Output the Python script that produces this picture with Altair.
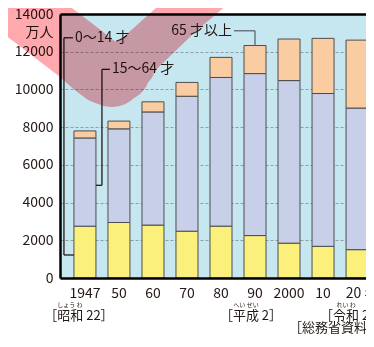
import altair as alt
import pandas as pd

# ---- data (万人) ----
CATS = ["1947", "50", "60", "70", "80", "90", "2000", "10", "20 年"]
AGE_0_14 = [2748, 2943, 2807, 2482, 2751, 2249, 1847, 1680, 1503]
AGE_15_64 = [4678, 4966, 6000, 7157, 7883, 8590, 8622, 8103, 7509]
AGE_65 = [374, 411, 535, 733, 1065, 1489, 2204, 2925, 3603]
GROUPS = ["0〜14 才", "15〜64 才", "65 才以上"]
COLORS = ["#fcf07c", "#c7cfe9", "#f9cca2"]
Y_TICKS = [0, 2000, 4000, 6000, 8000, 10000, 12000, 14000]

ERA_CATS = ["1947", "90", "20 年"]
ERA_LABELS = ["［昭和 22］", "［平成 2］", "［令和 2］"]
ERA_RUBY = ["しょう わ", "へい せい", "れい わ"]
SOURCE = "［総務省資料］"

# decorative pink swoosh overlay (centre line in bar-index / 万人 units, width px)
OV_I = [-3.68, -1.62, -0.15, 0.26, 0.56, 0.79, 1.06, 1.32, 1.62, 2.79, 5.15]
OV_V = [16760, 13950, 11930, 11300, 10920, 10770, 10920, 11350, 11930, 13890, 17500]
OV_W = [62, 62, 62, 63, 64, 64, 58, 52, 46, 44, 44]

FONT = "Noto Sans CJK JP"
INK = "#231815"

rows = []
for gi, (g, vals) in enumerate(zip(GROUPS, [AGE_0_14, AGE_15_64, AGE_65])):
    for c, v in zip(CATS, vals):
        rows.append({"cat": c, "group": g, "value": v, "gi": gi})
df = pd.DataFrame(rows)
totals = {c: a + b + d for c, a, b, d in zip(CATS, AGE_0_14, AGE_15_64, AGE_65)}

xscale = alt.Scale(domain=CATS, range=[0, 322], paddingInner=0.353, paddingOuter=0.41)
yscale = alt.Scale(domain=[0, 14000], nice=False, zero=True)
xaxis = alt.Axis(title=None, labelFont=FONT, labelFontSize=14, labelColor=INK,
                 labelAngle=0, labelPadding=8, ticks=False, tickSize=0,
                 domainColor="#000000", domainWidth=2.5, zindex=1,
                 labelOffset={"condition": {"test": "datum.value === '20 年'", "value": 5}, "value": 0})
top_test = "datum.value === 14000"
yaxis = alt.Axis(values=Y_TICKS, format="d", title="万人", titleAngle=0, titleAlign="right",
                 titleBaseline="middle", titleX=-7, titleY=18, titleFont=FONT,
                 titleFontSize=14, titleFontWeight="normal", titleColor=INK,
                 labelFont=FONT, labelFontSize=14, labelColor=INK, labelPadding=7,
                 ticks=False, tickSize=0, domainColor="#000000", domainWidth=2.5,
                 grid=True,
                 gridColor={"condition": {"test": top_test, "value": "#000000"}, "value": "#8e9ea6"},
                 gridDash={"condition": {"test": top_test, "value": []}, "value": [3, 2]},
                 gridWidth={"condition": {"test": top_test, "value": 2.5}, "value": 1})

X = alt.X("cat:N", scale=xscale, axis=xaxis)
Y = alt.Y("value:Q", scale=yscale, axis=yaxis)

bars = alt.Chart(df).mark_bar(stroke="#4d4d4d", strokeWidth=1).encode(
    x=X,
    y=alt.Y("value:Q", stack="zero", scale=yscale, axis=yaxis),
    color=alt.Color("group:N", scale=alt.Scale(domain=GROUPS, range=COLORS), legend=None),
    order=alt.Order("gi:Q", sort="ascending"),
)


def vseg(cat, y1, y2, off, color=INK):
    d = pd.DataFrame({"cat": [cat], "value": [y1], "value2": [y2]})
    return alt.Chart(d).mark_rule(xOffset=off, color=color, strokeWidth=1.3).encode(
        x=X, y=Y, y2="value2:Q")


def hseg(cat, y, off1, off2, color=INK):
    d = pd.DataFrame({"cat": [cat], "value": [y]})
    return alt.Chart(d).mark_rule(xOffset=off1, x2Offset=off2, color=color,
                                  strokeWidth=1.3).encode(x=X, x2="cat:N", y=Y)


def label(cat, y, text, dx, align):
    d = pd.DataFrame({"cat": [cat], "value": [y], "t": [text]})
    return alt.Chart(d).mark_text(align=align, baseline="middle", dx=dx, font=FONT,
                                  fontSize=14, color=INK).encode(x=X, y=Y, text="t:N")


L1_LOW, L1_TOP = 1220, 12740
L2_LOW, L2_TOP = 4915, 11065
L3_TOP = 13110
GRAY = "#5a6a72"
annots = [
    vseg("1947", L1_LOW, L1_TOP, -21),
    hseg("1947", L1_LOW, -21, -11),
    hseg("1947", L1_TOP, -21, -12),
    label("1947", L1_TOP, GROUPS[0], -10, "left"),
    vseg("1947", L2_LOW, L2_TOP, 17),
    hseg("1947", L2_LOW, 11, 17),
    hseg("1947", L2_TOP, 17, 25),
    label("1947", L2_TOP, GROUPS[1], 27, "left"),
    hseg("90", L3_TOP, -21, 0, GRAY),
    vseg("90", totals["90"], L3_TOP, 0, GRAY),
    label("90", L3_TOP, GROUPS[2], -23, "right"),
]

era_dx = [-6, -4, -6]
ruby_dx = [-15, -9, -11]
era_layers = []
for c, t, r, edx, rdx in zip(ERA_CATS, ERA_LABELS, ERA_RUBY, era_dx, ruby_dx):
    d = pd.DataFrame({"cat": [c], "value": [0], "t": [t], "r": [r]})
    era_layers.append(alt.Chart(d).mark_text(align="center", baseline="middle", dx=edx, dy=38,
                                             font=FONT, fontSize=13, color=INK)
                      .encode(x=X, y=Y, text="t:N"))
    era_layers.append(alt.Chart(d).mark_text(align="center", baseline="middle", dx=rdx, dy=27,
                                             font=FONT, fontSize=6, color=INK)
                      .encode(x=X, y=Y, text="r:N"))

src = alt.Chart(pd.DataFrame({"cat": ["20 年"], "value": [0], "t": [SOURCE]})).mark_text(
    align="left", baseline="middle", dx=-68, dy=50, font=FONT, fontSize=13, color=INK
).encode(x=X, y=Y, text="t:N")

inner = alt.layer(bars, *annots, *era_layers, src)

ov = pd.DataFrame({"i": OV_I, "value": OV_V, "w": OV_W, "k": list(range(len(OV_I)))})
overlay = alt.Chart(ov).mark_trail(color="#ffa8ae", blend="multiply").encode(
    x=alt.X("i:Q", scale=alt.Scale(domain=[-0.7353, 8.7353], range=[0, 322], nice=False, zero=False),
            axis=None),
    y=Y,
    size=alt.Size("w:Q", scale=None, legend=None),
    order=alt.Order("k:Q"),
)

chart = alt.layer(inner, overlay).resolve_scale(x="independent").properties(
    width=306, height=264,
    autosize=alt.AutoSizeParams(type="none"),
    padding={"left": 52, "top": 6, "right": 0, "bottom": 56},
).configure_view(fill="#c6e7ef", stroke=None)

chart.save("out.html", embed_options={"renderer": "svg", "actions": False})
